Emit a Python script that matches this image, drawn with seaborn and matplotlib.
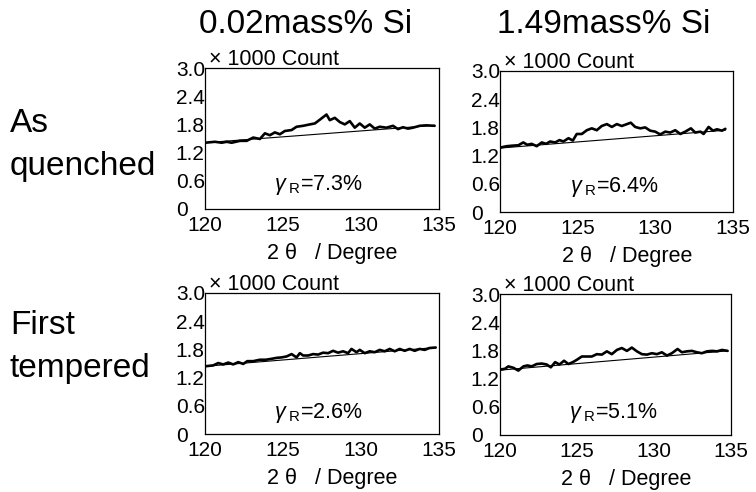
import matplotlib
matplotlib.use("Agg")
import matplotlib.pyplot as plt
import seaborn as sns
import pandas as pd

# X-ray diffraction profiles around the austenite peak (x1000 counts)
two_theta_q_lo = [120.0, 120.64, 121.07, 121.39, 121.71, 122.24, 122.67, 123.09, 123.52, 123.84,
                  124.16, 124.48, 124.80, 125.12, 125.55, 125.87, 126.29, 126.72, 127.04, 127.36,
                  127.79, 128.00, 128.32, 128.64, 128.96, 129.28, 129.60, 129.92, 130.24, 130.56,
                  130.88, 131.20, 131.63, 132.05, 132.37, 132.69, 133.01, 133.33, 133.76, 134.19, 134.72]
count_q_lo = [1.41, 1.43, 1.41, 1.43, 1.41, 1.45, 1.45, 1.52, 1.49, 1.61,
              1.57, 1.63, 1.59, 1.66, 1.68, 1.75, 1.77, 1.80, 1.82, 1.90,
              2.01, 1.89, 1.94, 1.85, 1.80, 1.87, 1.73, 1.82, 1.73, 1.80,
              1.71, 1.75, 1.73, 1.77, 1.70, 1.74, 1.71, 1.73, 1.77, 1.78, 1.77]

two_theta_q_hi = [120.0, 120.43, 120.75, 121.18, 121.50, 121.76, 122.04, 122.36, 122.69, 122.97,
                  123.22, 123.55, 123.83, 124.08, 124.41, 124.69, 124.94, 125.27, 125.59, 125.91,
                  126.23, 126.55, 126.88, 127.20, 127.52, 127.84, 128.17, 128.42, 128.70, 129.03,
                  129.35, 129.67, 129.99, 130.32, 130.64, 130.96, 131.28, 131.61, 131.93, 132.29,
                  132.57, 132.90, 133.11, 133.43, 133.71, 133.97, 134.29, 134.51]
count_q_hi = [1.37, 1.40, 1.41, 1.42, 1.48, 1.43, 1.45, 1.40, 1.48, 1.45,
              1.50, 1.48, 1.53, 1.50, 1.57, 1.52, 1.66, 1.66, 1.74, 1.78,
              1.74, 1.83, 1.87, 1.81, 1.87, 1.83, 1.87, 1.90, 1.81, 1.78,
              1.80, 1.73, 1.71, 1.65, 1.71, 1.69, 1.74, 1.66, 1.71, 1.78,
              1.69, 1.71, 1.66, 1.81, 1.73, 1.76, 1.73, 1.77]

two_theta_t_lo = [120.0, 120.53, 120.85, 121.17, 121.49, 121.81, 122.13, 122.45, 122.71, 123.09,
                  123.52, 123.90, 124.27, 124.59, 124.91, 125.23, 125.55, 125.87, 126.08, 126.29,
                  126.61, 126.93, 127.25, 127.57, 127.89, 128.21, 128.53, 128.85, 129.17, 129.39,
                  129.71, 129.92, 130.24, 130.56, 130.88, 131.20, 131.52, 131.84, 132.16, 132.48,
                  132.80, 133.12, 133.44, 133.76, 134.08, 134.40, 134.79]
count_t_lo = [1.44, 1.46, 1.51, 1.48, 1.52, 1.48, 1.53, 1.49, 1.55, 1.55,
              1.58, 1.58, 1.60, 1.62, 1.63, 1.65, 1.70, 1.63, 1.72, 1.67,
              1.67, 1.70, 1.69, 1.73, 1.72, 1.77, 1.73, 1.76, 1.72, 1.81,
              1.74, 1.79, 1.72, 1.76, 1.74, 1.79, 1.76, 1.81, 1.76, 1.81,
              1.77, 1.81, 1.77, 1.81, 1.79, 1.83, 1.84]

two_theta_t_hi = [120.0, 120.33, 120.54, 120.87, 121.19, 121.52, 121.78, 122.06, 122.38, 122.71,
                  123.03, 123.30, 123.58, 123.86, 124.16, 124.44, 124.73, 124.99, 125.31, 125.64,
                  125.96, 126.29, 126.61, 126.94, 127.26, 127.59, 127.91, 128.24, 128.56, 128.89,
                  129.21, 129.54, 129.86, 130.19, 130.51, 130.84, 131.16, 131.53, 131.81, 132.14,
                  132.46, 132.79, 133.11, 133.44, 133.77, 134.09, 134.42, 134.78]
count_t_hi = [1.39, 1.41, 1.46, 1.43, 1.37, 1.46, 1.48, 1.46, 1.51, 1.52,
              1.50, 1.44, 1.55, 1.50, 1.58, 1.51, 1.55, 1.60, 1.67, 1.67,
              1.67, 1.72, 1.71, 1.78, 1.72, 1.81, 1.85, 1.79, 1.86, 1.78,
              1.72, 1.71, 1.74, 1.72, 1.76, 1.69, 1.74, 1.83, 1.76, 1.78,
              1.79, 1.76, 1.74, 1.78, 1.79, 1.78, 1.81, 1.79]

# Straight background lines under each profile
bg_x_q_lo, bg_y_q_lo = [120.0, 134.72], [1.41, 1.78]
bg_x_q_hi, bg_y_q_hi = [120.0, 134.51], [1.36, 1.74]
bg_x_t_lo, bg_y_t_lo = [120.0, 134.79], [1.44, 1.84]
bg_x_t_hi, bg_y_t_hi = [120.0, 134.78], [1.38, 1.79]

retained_austenite = ["7.3", "6.4", "2.6", "5.1"]
column_titles = ["0.02mass% Si", "1.49mass% Si"]
row_titles = [("As", "quenched"), ("First", "tempered")]
x_ticks = [120, 125, 130, 135]
y_ticks = [0, 0.6, 1.2, 1.8, 2.4, 3.0]
y_tick_labels = ["0", "0.6", "1.2", "1.8", "2.4", "3.0"]

sns.set_style("white")
plt.rcParams["font.family"] = ["Liberation Sans", "DejaVu Sans"]
plt.rcParams["mathtext.fontset"] = "custom"
plt.rcParams["mathtext.rm"] = "Liberation Sans"
plt.rcParams["mathtext.it"] = "Liberation Sans:italic"
for key in ("text.color", "axes.labelcolor", "xtick.color", "ytick.color", "axes.edgecolor"):
    plt.rcParams[key] = "black"

W, H = 756, 492
fig = plt.figure(figsize=(W / 100, H / 100), dpi=100)

# panel boxes in pixels: left, top, right, bottom
boxes = [(205, 68, 439, 209), (500, 71, 733, 212),
         (205, 293, 439, 434), (500, 294, 731, 435)]
profiles = [(two_theta_q_lo, count_q_lo, bg_x_q_lo, bg_y_q_lo),
            (two_theta_q_hi, count_q_hi, bg_x_q_hi, bg_y_q_hi),
            (two_theta_t_lo, count_t_lo, bg_x_t_lo, bg_y_t_lo),
            (two_theta_t_hi, count_t_hi, bg_x_t_hi, bg_y_t_hi)]
gamma_pos = [(0.487, 0.17), (0.49, 0.177), (0.487, 0.15), (0.49, 0.156)]

for i, ((l, t, r, b), (px, py, bx, by)) in enumerate(zip(boxes, profiles)):
    ax = fig.add_axes([l / W, 1 - b / H, (r - l) / W, (b - t) / H])
    prof = pd.DataFrame({"two_theta": px, "count": py})
    bg = pd.DataFrame({"two_theta": bx, "count": by})
    sns.lineplot(data=bg, x="two_theta", y="count", ax=ax, color="black", linewidth=0.8)
    sns.lineplot(data=prof, x="two_theta", y="count", ax=ax, color="black", linewidth=1.9)
    ax.set_xlim(120, 135)
    ax.set_ylim(0, 3.0)
    ax.set_xticks(x_ticks)
    ax.set_xticklabels([str(v) for v in x_ticks])
    ax.set_yticks(y_ticks)
    ax.set_yticklabels(y_tick_labels)
    ax.tick_params(length=0, labelsize=15, colors="black")
    ax.tick_params(axis="x", pad=5)
    ax.tick_params(axis="y", pad=21)
    for lab in ax.get_yticklabels():
        lab.set_horizontalalignment("left")
    for sp in ax.spines.values():
        sp.set_visible(True)
        sp.set_color("black")
        sp.set_linewidth(0.9)
    ax.set_ylabel("")
    ax.set_xlabel("2 θ   / Degree", fontsize=15.5, va="top", color="black")
    ax.xaxis.set_label_coords(0.545, -0.24)
    ax.text(0.017, 1.02, "× 1000 Count", transform=ax.transAxes,
            fontsize=15.5, va="baseline", ha="left", color="black")
    gx, gy = gamma_pos[i]
    ax.text(gx, gy, r"$\gamma_{\ \mathrm{R}}$=" + retained_austenite[i] + "%",
            transform=ax.transAxes, fontsize=15.5, ha="center", va="center", color="black")

# column headings
fig.text(306 / W, 1 - 33 / H, column_titles[0], fontsize=24, ha="center", va="baseline", color="black")
fig.text(604 / W, 1 - 33 / H, column_titles[1], fontsize=24, ha="center", va="baseline", color="black")

# row headings
for (first, second), (y1, y2) in zip(row_titles, [(132, 175), (334, 377)]):
    fig.text(10 / W, 1 - y1 / H, first, fontsize=24, ha="left", va="baseline", color="black")
    fig.text(10 / W, 1 - y2 / H, second, fontsize=24, ha="left", va="baseline", color="black")

fig.savefig("out.png", dpi=100)
